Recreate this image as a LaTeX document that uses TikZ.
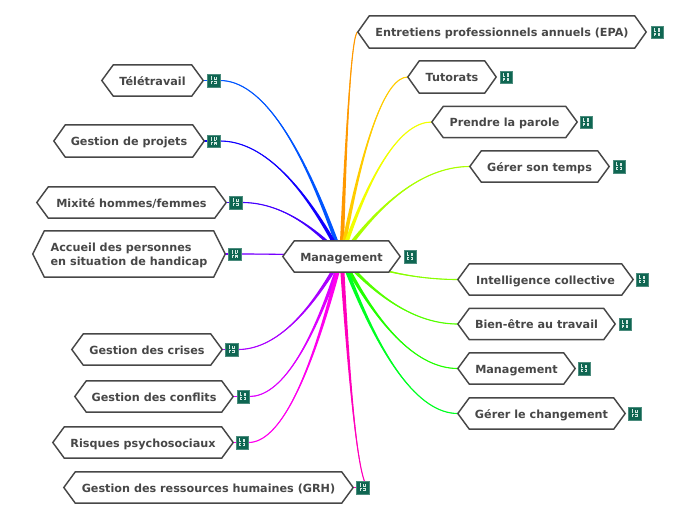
\documentclass[tikz,border=0pt]{standalone}
\usepackage{fontspec}
\setmainfont{DejaVu Sans}
\usetikzlibrary{calc}
\definecolor{inkc}{HTML}{474747}
\definecolor{iconc}{HTML}{0F6652}
\definecolor{glyphc}{HTML}{D5E8E2}
\definecolor{cepa}{HTML}{FF9900}
\definecolor{ctut}{HTML}{FFCC00}
\definecolor{cpar}{HTML}{F2FF00}
\definecolor{ctmp}{HTML}{AAFF00}
\definecolor{cint}{HTML}{88FF00}
\definecolor{cbien}{HTML}{55FF00}
\definecolor{cmgt}{HTML}{22FF00}
\definecolor{cchg}{HTML}{00FF22}
\definecolor{ctele}{HTML}{0055FF}
\definecolor{cproj}{HTML}{1100FF}
\definecolor{cmix}{HTML}{4400FF}
\definecolor{cacc}{HTML}{7700FF}
\definecolor{ccri}{HTML}{AA00FF}
\definecolor{ccon}{HTML}{DD00FF}
\definecolor{cpsy}{HTML}{FF00EE}
\definecolor{cgrh}{HTML}{FF00BB}
\pgfdeclarelayer{edge}
\pgfdeclarelayer{hex}
\pgfsetlayers{edge,hex,main}
\tikzset{
  x=1pt,y=-1pt,
  label text/.style={inner sep=0pt,text=inkc,font=\fontsize{11.2}{14.5}\selectfont\bfseries,align=left},
  hexline/.style={draw=inkc,fill=white,line width=1.45pt,line join=miter},
  iconbox/.style={fill=iconc,draw=iconc!75!white,line width=0.4pt,inner sep=0pt,minimum size=12.5pt,
    path picture={
      \coordinate (ic) at (path picture bounding box.center);
      \fill[glyphc] ($(ic)+(-3.0,-4.2)$) rectangle ++(0.7,3.4);
      \fill[glyphc] ($(ic)+(-3.0,-1.1)$) rectangle ++(1.8,0.5);
      \fill[glyphc] ($(ic)+(0.6,-3.6)$) rectangle ++(0.6,2.6);
      \fill[glyphc] ($(ic)+(2.2,-3.6)$) rectangle ++(0.6,2.6);
      \fill[glyphc] ($(ic)+(0.6,-1.2)$) rectangle ++(2.2,0.5);
      \fill[glyphc] ($(ic)+(-3.0,0.6)$) rectangle ++(2.2,0.6);
      \fill[glyphc] ($(ic)+(-3.0,0.6)$) rectangle ++(0.7,3.2);
      \fill[glyphc] ($(ic)+(-3.0,2.0)$) rectangle ++(1.8,0.5);
      \fill[glyphc] ($(ic)+(0.6,0.6)$) rectangle ++(2.2,0.5);
      \fill[glyphc] ($(ic)+(0.6,2.0)$) rectangle ++(2.2,0.5);
      \fill[glyphc] ($(ic)+(2.2,0.6)$) rectangle ++(0.6,3.2);
      \fill[glyphc] ($(ic)+(0.6,2.0)$) rectangle ++(0.6,1.8);
    }}
}
% name, left x, right x, centre y, height, text
\newcommand\hx[6]{%
  \node[label text,minimum width={(#3-#2)*1pt},minimum height={#5*1pt}] (#1) at ({(#2+#3)/2},#4) {\raisebox{-4.4pt}[0pt][0pt]{\begin{tabular}{@{}l@{}}#6\end{tabular}}};
  \begin{pgfonlayer}{hex}
    \draw[hexline] (#1.west) -- ([xshift=11.5pt]#1.north west) -- ([xshift=-11.5pt]#1.north east)
      -- (#1.east) -- ([xshift=-11.5pt]#1.south east) -- ([xshift=11.5pt]#1.south west) -- cycle;
  \end{pgfonlayer}
}
% name of icon node, centre x, centre y
\newcommand\ico[3]{\node[iconbox] (#1) at (#2,#3) {};}
% tapered curve: from node, to anchor, colour
\newcommand\lnk[3]{%
  \begin{pgfonlayer}{edge}
    \coordinate (A) at (#1.center);
    \coordinate (B) at (#2);
    \coordinate (M) at ($(A)!.5!(B)$);
    \coordinate (Q) at (M |- B);
    \coordinate (A1) at ($(A)!2.2pt!90:(Q)$);
    \coordinate (A2) at ($(A)!2.2pt!-90:(Q)$);
    \coordinate (B1) at ($(B)!0.2pt!-90:(Q)$);
    \coordinate (B2) at ($(B)!0.2pt!90:(Q)$);
    \fill[#3] (A1) .. controls ($(A1)!.6667!(Q)$) and ($(B1)!.6667!(Q)$) .. (B1)
      -- (B2) .. controls ($(B2)!.6667!(Q)$) and ($(A2)!.6667!(Q)$) .. (A2) -- cycle;
    \draw[#3,line width=1.1pt] (A) .. controls ($(A)!.6667!(Q)$) and ($(B)!.6667!(Q)$) .. (B);
  \end{pgfonlayer}
}
\newcommand\stub[3]{%
  \begin{pgfonlayer}{edge}
    \draw[#3,line width=1.1pt] (#1.east) -- (#2.center);
  \end{pgfonlayer}
}
\begin{document}
\begin{tikzpicture}
\useasboundingbox (0,0) rectangle (696,520);
\hx{root}{283}{400}{256.5}{31}{Management}
\ico{rooti}{410}{256.5}
% right side
\hx{epa}{358}{646}{32}{32}{Entretiens professionnels annuels (EPA)}
\ico{epai}{657}{32}
\hx{tut}{408}{496}{77}{32}{Tutorats}
\ico{tuti}{506}{77}
\hx{par}{432}{577}{122}{31}{Prendre la parole}
\ico{pari}{586}{122}
\hx{tmp}{470}{609}{166.5}{31}{Gérer son temps}
\ico{tmpi}{619}{166.5}
\hx{int}{458}{633}{279.5}{31}{Intelligence collective}
\ico{inti}{642}{279.5}
\hx{bien}{458}{615}{324}{31}{Bien-être au travail}
\ico{bieni}{625}{324}
\hx{mgt}{458}{575}{368.5}{31}{Management}
\ico{mgti}{584}{368.5}
\hx{chg}{458}{625}{413.5}{31}{Gérer le changement}
\ico{chgi}{634.5}{413.5}
% left side
\hx{tele}{102}{203}{80.5}{31}{Télétravail}
\ico{telei}{213.5}{80.5}
\hx{proj}{54}{204}{141}{32}{Gestion de projets}
\ico{proji}{213.5}{141}
\hx{mix}{37}{226}{202.5}{31}{Mixité hommes/femmes}
\ico{mixi}{235.5}{202.5}
\hx{acc}{33}{225}{254}{46}{Accueil des personnes\\en situation de handicap}
\ico{acci}{234.5}{254}
\hx{cri}{72}{222}{349.5}{31}{Gestion des crises}
\ico{crii}{231.5}{349.5}
\hx{con}{75}{233}{396.5}{31}{Gestion des conflits}
\ico{coni}{243}{396.5}
\hx{psy}{53}{233}{442.5}{31}{Risques psychosociaux}
\ico{psyi}{242}{442.5}
\hx{grh}{64}{353}{487.5}{31}{Gestion des ressources humaines (GRH)}
\ico{grhi}{362.5}{487.5}
% connectors
\lnk{root}{epa.west}{cepa}
\lnk{root}{tut.west}{ctut}
\lnk{root}{par.west}{cpar}
\lnk{root}{tmp.west}{ctmp}
\lnk{root}{int.west}{cint}
\lnk{root}{bien.west}{cbien}
\lnk{root}{mgt.west}{cmgt}
\lnk{root}{chg.west}{cchg}
\lnk{root}{telei.east}{ctele}
\stub{tele}{telei}{ctele}
\lnk{root}{proji.east}{cproj}
\stub{proj}{proji}{cproj}
\lnk{root}{mixi.east}{cmix}
\stub{mix}{mixi}{cmix}
\lnk{root}{acci.east}{cacc}
\stub{acc}{acci}{cacc}
\lnk{root}{crii.east}{ccri}
\stub{cri}{crii}{ccri}
\lnk{root}{coni.east}{ccon}
\stub{con}{coni}{ccon}
\lnk{root}{psyi.east}{cpsy}
\stub{psy}{psyi}{cpsy}
\lnk{root}{grhi.east}{cgrh}
\stub{grh}{grhi}{cgrh}
\end{tikzpicture}
\end{document}
